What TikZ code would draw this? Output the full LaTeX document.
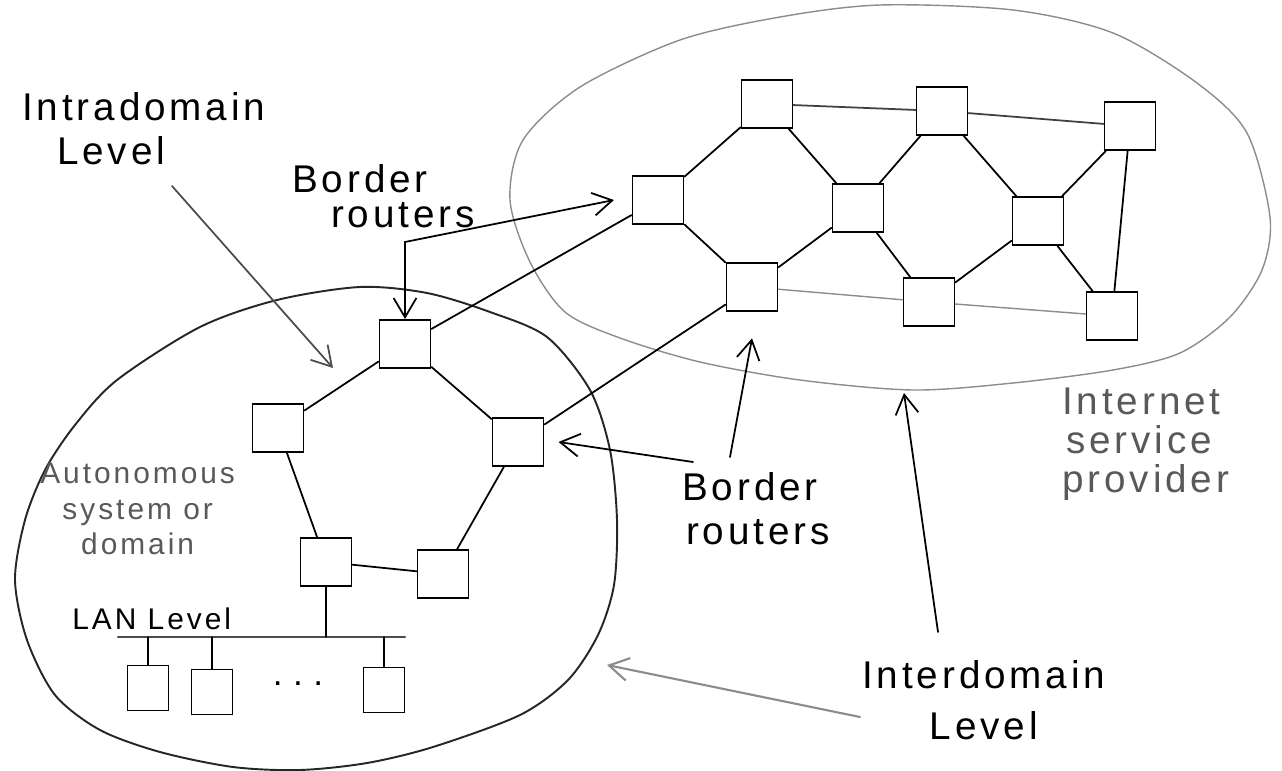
\documentclass[tikz,border=0pt]{standalone}
\usepackage{fontspec}
\setmainfont{Liberation Sans}
\usetikzlibrary{arrows.meta}

\begin{document}
\begin{tikzpicture}[x=0.02cm, y=-0.02cm, line cap=round,
  >={Straight Barb[length=11pt,width=13pt]},
  router/.style={rectangle, draw, line width=1.1pt, minimum width=1.02cm, minimum height=0.96cm, inner sep=0pt},
  host/.style={rectangle, draw, line width=1.1pt, minimum width=0.82cm, minimum height=0.9cm, inner sep=0pt},
  link/.style={line width=1pt},
  faint/.style={line width=0.8pt, black!45},
  note/.style={font=\fontsize{22}{25}\selectfont\addfontfeature{LetterSpace=10}, align=left, inner sep=0pt, anchor=north west},
  notesmall/.style={note, font=\fontsize{17}{20}\selectfont\addfontfeature{LetterSpace=10}}]
\useasboundingbox (0,0) rectangle (1282,771);

% the two domains
\draw[line width=1.1pt, black!85] plot[smooth cycle] coordinates {(117,380) (200,327) (277,300) (360,287) (427,293) (490,312) (547,337) (590,390) (610,450) (617,520) (614,585) (598,635) (568,680) (520,715) (433,747) (367,763) (300,770) (233,767) (160,752) (100,730) (55,695) (27,640) (15,580) (25,520) (45,470) (75,425)};
\draw[faint] plot[smooth cycle] coordinates {(510,200) (523,140) (580,87) (680,40) (780,17) (880,5) (1013,10) (1113,33) (1197,83) (1247,133) (1270,217) (1262,270) (1230,317) (1180,353) (1113,370) (1013,383) (913,390) (800,380) (700,362) (620,338) (565,312) (530,262)};

% routers of the autonomous system
\node (asTop) [router] at (405,344) {};
\node (asLeft) [router] at (278,428) {};
\node (asRight) [router] at (518,442) {};
\node (asLowLeft) [router] at (326,562) {};
\node (asLowRight) [router] at (443,574) {};

\draw [link] (asTop) -- (asLeft);
\draw [link] (asTop) -- (asRight);
\draw [link] (asLeft) -- (asLowLeft);
\draw [link] (asRight) -- (asLowRight);
\draw [link] (asLowLeft) -- (asLowRight);

% LAN
\coordinate (busL) at (118,637);
\coordinate (busR) at (405,637);
\node (hostA) [host] at (148,688) {};
\node (hostB) [host] at (212,692) {};
\node (hostC) [host] at (384,690) {};
\node (dots) at (298,684) {\fontsize{20}{20}\selectfont .\hspace{6pt}.\hspace{6pt}.};

\draw [faint, black!70, line width=1.2pt] (busL) -- (busR);
\draw [link] (asLowLeft.south) -- (asLowLeft.south |- busL);
\draw [link] (hostA.north) -- (hostA.north |- busL);
\draw [link] (hostB.north) -- (hostB.north |- busL);
\draw [link] (hostC.north) -- (hostC.north |- busL);

% routers of the provider
\node (ispWest) [router] at (658,200) {};
\node (ispTopA) [router] at (767,104) {};
\node (ispTopB) [router] at (942,111) {};
\node (ispTopC) [router] at (1130,126) {};
\node (ispMidA) [router] at (858,208) {};
\node (ispMidB) [router] at (1038,221) {};
\node (ispLowA) [router] at (752,287) {};
\node (ispLowB) [router] at (929,302) {};
\node (ispLowC) [router] at (1112,316) {};

\draw [link] (ispWest) -- (ispTopA);
\draw [link] (ispWest) -- (ispLowA);
\draw [link] (ispTopA) -- (ispMidA);
\draw [link] (ispLowA) -- (ispMidA);
\draw [link] (ispMidA) -- (ispTopB);
\draw [link] (ispMidA) -- (ispLowB);
\draw [link] (ispTopB) -- (ispMidB);
\draw [link] (ispLowB) -- (ispMidB);
\draw [link] (ispMidB) -- (ispTopC);
\draw [link] (ispMidB) -- (ispLowC);
\draw [link] (ispTopC) -- (ispLowC);
\draw [link, black!75] (ispTopA) -- (ispTopB);
\draw [link, black!75] (ispTopB) -- (ispTopC);
\draw [faint] (ispLowA) -- (ispLowB);
\draw [faint] (ispLowB) -- (ispLowC);

% links between the domains
\draw [link] (asTop) -- (ispWest);
\draw [link] (asRight) -- (ispLowA);

% labels
\node (intra) [note] at (22,92) {Intradomain\\\hspace*{0.9em}Level};
\node (borderTop) [note] at (292,164) {Border\\[-5pt]\hspace*{1em}routers};
\node (borderLow) [note] at (682,472) {Border\\\hspace*{0.1em}routers};
\node (isp) [note, black!65] at (1062,388) {Internet\\[-3pt]\hspace*{0.1em}service\\[-3pt]provider};
\node (inter) [note, align=center] at (862,660) {Interdomain\\[4pt]Level};
\node (autonomous) [notesmall, black!65, align=center] at (40,463) {Autonomous\\system or\\domain};
\node (lan) [notesmall] at (72,607) {LAN Level};

% pointers
\coordinate (intraTail) at (172,186);
\coordinate (intraTip) at (333,368);
\coordinate (brBend) at (405,242);
\coordinate (brTail) at (693,462);
\coordinate (brUpTail) at (730,457);
\coordinate (interUpTail) at (938,632);
\coordinate (interUpTip) at (904,393);
\coordinate (interLeftTail) at (860,717);
\coordinate (interLeftTip) at (607,665);

\draw [->, link, black!70] (intraTail) -- (intraTip);
\draw [<->, link] (asTop.north) -- (brBend) -- ([xshift=-10pt]ispWest.west);
\draw [->, link] (brTail) -- ([xshift=8pt]asRight.east);
\draw [->, link] (brUpTail) -- ([yshift=-15pt]ispLowA.south);
\draw [->, link] (interUpTail) -- (interUpTip);
\draw [->, faint, line width=1.2pt] (interLeftTail) -- (interLeftTip);
\end{tikzpicture}
\end{document}
